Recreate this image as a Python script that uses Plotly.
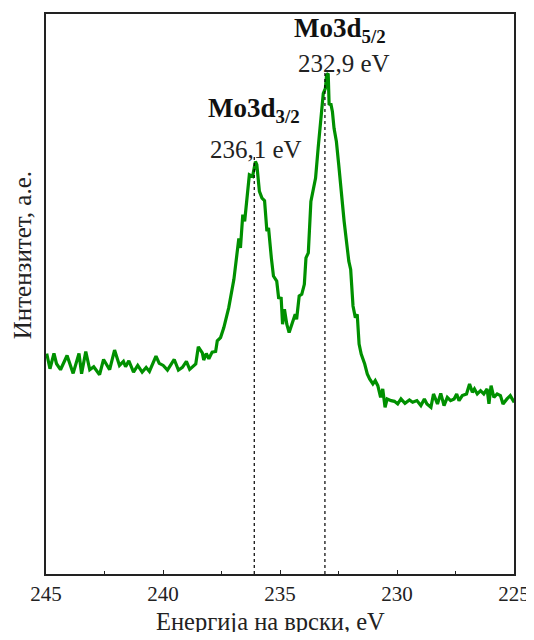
import plotly.graph_objects as go

# Binding energy (eV) and intensity (arb. units)
energy = [244.97, 244.83, 244.66, 244.55, 244.38, 244.10, 243.84, 243.59, 243.48, 243.30,
          243.13, 242.96, 242.71, 242.54, 242.28, 242.07, 241.86, 241.69, 241.60, 241.46,
          241.26, 241.08, 240.89, 240.72, 240.58, 240.30, 240.16, 239.99, 239.81, 239.52,
          239.34, 239.17, 239.00, 238.86, 238.60, 238.49, 238.32, 238.26, 238.15, 238.04,
          237.90, 237.75, 237.68, 237.54, 237.40, 237.19, 236.97, 236.76, 236.69, 236.59,
          236.51, 236.37, 236.31, 236.17, 236.05, 235.99, 235.88, 235.77, 235.66, 235.56,
          235.49, 235.37, 235.28, 235.14, 235.06, 234.95, 234.89, 234.81, 234.71, 234.61,
          234.50, 234.35, 234.29, 234.18, 234.07, 233.96, 233.89, 233.79, 233.68, 233.58,
          233.48, 233.37, 233.25, 233.15, 233.06, 233.01, 232.94, 232.90, 232.83, 232.76,
          232.69, 232.59, 232.49, 232.38, 232.26, 232.16, 232.06, 231.98, 231.88, 231.78,
          231.70, 231.62, 231.53, 231.38, 231.27, 231.17, 231.03, 230.93, 230.82, 230.70,
          230.61, 230.51, 230.42, 230.25, 230.11, 229.97, 229.83, 229.66, 229.47, 229.33,
          229.15, 228.98, 228.83, 228.72, 228.55, 228.44, 228.27, 228.13, 227.99, 227.85,
          227.71, 227.56, 227.45, 227.35, 227.21, 227.03, 226.90, 226.78, 226.69, 226.57,
          226.43, 226.29, 226.15, 226.07, 225.98, 225.86, 225.72, 225.58, 225.47, 225.30,
          225.16, 224.99]
intensity = [221.3, 206.0, 221.3, 211.0, 205.0, 219.3, 201.3, 221.3, 201.0, 223.3,
             205.0, 208.0, 200.0, 215.3, 205.0, 224.7, 209.3, 213.3, 208.0, 214.0,
             202.7, 209.3, 202.7, 207.3, 203.3, 218.7, 211.3, 209.3, 204.7, 215.3,
             204.7, 207.3, 213.3, 205.3, 210.7, 228.0, 222.0, 214.7, 221.3, 216.0,
             222.7, 223.3, 234.0, 237.3, 247.3, 267.3, 295.7, 336.7, 327.3, 360.7,
             354.0, 390.7, 400.7, 399.0, 414.0, 410.7, 384.0, 377.3, 374.7, 344.0,
             347.3, 317.3, 299.0, 294.0, 277.3, 276.7, 250.7, 265.7, 250.7, 242.3,
             250.7, 260.7, 255.7, 279.0, 280.7, 290.7, 317.3, 322.3, 374.0, 387.3,
             397.3, 427.3, 457.3, 482.3, 487.3, 500.7, 502.3, 470.7, 472.3, 464.0,
             447.3, 434.0, 410.7, 380.7, 354.0, 334.0, 314.0, 305.7, 269.0, 257.3,
             260.7, 230.7, 220.7, 210.7, 200.7, 195.7, 190.7, 194.0, 189.0, 177.3,
             185.7, 167.3, 175.7, 174.0, 173.3, 170.7, 175.7, 171.3, 174.7, 172.3,
             174.0, 169.0, 175.7, 170.7, 167.3, 180.7, 170.7, 181.3, 169.0, 177.3,
             174.0, 175.7, 180.7, 174.0, 179.0, 180.7, 190.7, 182.3, 185.7, 180.7,
             184.0, 180.7, 185.7, 170.7, 189.0, 177.3, 180.7, 179.0, 170.7, 175.7,
             179.0, 172.3]

peak_names = ["Mo3d<sub>3/2</sub>", "Mo3d<sub>5/2</sub>"]
peak_labels = ["236,1 eV", "232,9 eV"]
peak_lines = [236.1, 233.08]
peak_tops = [421, 504]

x_ticks = [245, 240, 235, 230, 225]

FONT = "Liberation Serif"
fig = go.Figure()

fig.add_trace(go.Scatter(x=energy, y=intensity, mode="lines",
                         line=dict(color="#009000", width=3.2),
                         showlegend=False, hoverinfo="skip"))

for xe, top in zip(peak_lines, peak_tops):
    fig.add_trace(go.Scatter(x=[xe, xe], y=[0, top], mode="lines",
                             line=dict(color="black", width=1.2, dash="dot"),
                             showlegend=False, hoverinfo="skip"))

# peak annotations
ann_pos = [((236.12, 466), (236.04, 426)), ((232.43, 546), (232.26, 512))]
for name, lab, (pn, pl) in zip(peak_names, peak_labels, ann_pos):
    fig.add_annotation(x=pn[0], y=pn[1], text="<b>" + name + "</b>", showarrow=False,
                       font=dict(family=FONT, size=27, color="#111"),
                       xanchor="center", yanchor="middle")
    fig.add_annotation(x=pl[0], y=pl[1], text=lab, showarrow=False,
                       font=dict(family=FONT, size=25, color="#222"),
                       xanchor="center", yanchor="middle")

# axis titles
fig.add_annotation(xref="paper", yref="paper", x=(272 - 46) / 471, y=-(622 - 574) / 562,
                   text="Енергија на врски, eV", showarrow=False,
                   font=dict(family=FONT, size=24.5, color="#222"),
                   xanchor="center", yanchor="middle")
fig.add_annotation(xref="paper", yref="paper", x=(22 - 46) / 471, y=(574 - 254) / 562,
                   text="Интензитет, а.е.", showarrow=False, textangle=-90,
                   font=dict(family=FONT, size=25, color="#222"),
                   xanchor="center", yanchor="middle")

fig.update_layout(
    width=526, height=624,
    margin=dict(l=38, r=17, t=4, b=58),
    paper_bgcolor="white", plot_bgcolor="white",
    font=dict(family=FONT, size=21, color="#222"),
)
fig.update_xaxes(range=[245, 225], tickvals=x_ticks, ticktext=[str(t) for t in x_ticks],
                 showgrid=False, zeroline=False, showline=True, linecolor="#222",
                 linewidth=1.5, mirror=True, ticks="inside", ticklen=4, tickcolor="#222",
                 minor=dict(tickvals=[242.5, 237.5, 232.5, 227.5], ticks="inside",
                            ticklen=3, tickcolor="#222"),
                 tickfont=dict(family=FONT, size=21, color="#222"))
fig.update_yaxes(range=[0, 562], showticklabels=False, showgrid=False, zeroline=False,
                 showline=True, linecolor="#222", linewidth=1.5, mirror=True, ticks="")

fig.write_html("out.html")
